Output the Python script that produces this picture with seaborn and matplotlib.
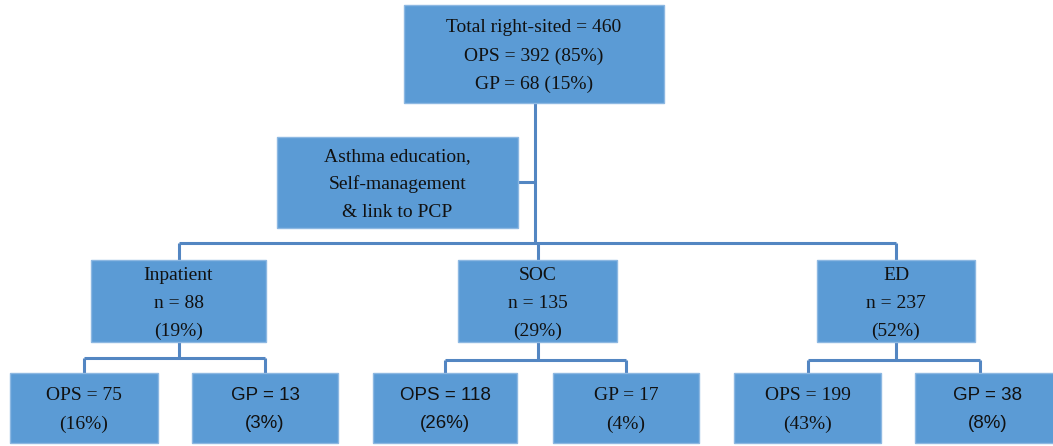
import matplotlib
matplotlib.use("Agg")
import matplotlib.pyplot as plt
import seaborn as sns
from matplotlib.patches import Rectangle

# ---- data ----
total = 460
total_ops = 392
total_gp = 68
total_ops_pct = 85
total_gp_pct = 15

settings = ["Inpatient", "SOC", "ED"]
setting_n = [88, 135, 237]
setting_pct = [19, 29, 52]

ops_n = [75, 118, 199]
ops_pct = [16, 26, 43]
gp_n = [13, 17, 38]
gp_pct = [3, 4, 8]

intervention = ["Asthma education,", "Self-management", "& link to PCP"]

# ---- layout (pixels, origin top-left) ----
W, H = 1053, 446
FILL = "#5B9BD5"
EDGE = "#8DB8E2"
LINE = "#5386C2"
SERIF = "Liberation Serif"
SANS = "Liberation Sans"
FS = 14
STEP = 28

mid_x = [(91, 266), (458, 617), (817, 975)]
mid_y = (260, 342)
kids_x = [((10, 158), (192, 338)), ((373, 517), (553, 699)), ((734, 881), (915, 1060))]
kids_y = (373, 443)
kid_bar_y = [358, 360, 360]
sans_ops = [False, True, False]
sans_gp = [True, False, True]

sns.set_theme(style="white")
fig = plt.figure(figsize=(W / 100, H / 100), dpi=100)
ax = fig.add_axes([0, 0, 1, 1])
ax.set_xlim(0, W)
ax.set_ylim(H, 0)
ax.axis("off")


def box(x0, x1, y0, y1, lines, fams=None):
    ax.add_patch(Rectangle((x0, y0), x1 - x0, y1 - y0, facecolor=FILL,
                           edgecolor=EDGE, linewidth=1.0, zorder=2))
    cx = (x0 + x1) / 2
    cy = (y0 + y1) / 2 + 2
    k = len(lines)
    for i, t in enumerate(lines):
        fam = fams[i] if fams else SERIF
        ax.text(cx, cy + (i - (k - 1) / 2) * STEP, t, ha="center", va="center",
                fontsize=FS if fam == SERIF else FS - 0.5, family=fam,
                color="#111111", zorder=3)


def line(xs, ys):
    ax.plot(xs, ys, color=LINE, linewidth=2.2, solid_capstyle="butt", zorder=1)


# top box and trunk
box(404, 664, 5, 103, [f"Total right-sited = {total}",
                       f"OPS = {total_ops} ({total_ops_pct}%)",
                       f"GP = {total_gp} ({total_gp_pct}%)"])
trunk_x = 535
line([trunk_x, trunk_x], [103, 243])

# intervention box
box(277, 518, 137, 228, intervention)
line([518, trunk_x], [182, 182])

# horizontal bar to settings
centers = [(a + b) / 2 for a, b in mid_x]
line([centers[0], centers[-1]], [243, 243])
for c in centers:
    line([c, c], [243, mid_y[0]])

for i, name in enumerate(settings):
    x0, x1 = mid_x[i]
    box(x0, x1, mid_y[0], mid_y[1], [name, f"n = {setting_n[i]}", f"({setting_pct[i]}%)"])
    c = centers[i]
    by = kid_bar_y[i]
    line([c, c], [mid_y[1], by])
    (lx0, lx1), (rx0, rx1) = kids_x[i]
    lc = (lx0 + lx1) / 2
    rc = (rx0 + min(rx1, W - 8)) / 2 if i == 2 else (rx0 + rx1) / 2
    line([lc, rc], [by, by])
    line([lc, lc], [by, kids_y[0]])
    line([rc, rc], [by, kids_y[0]])
    f_ops = SANS if sans_ops[i] else SERIF
    f_gp = SANS if sans_gp[i] else SERIF
    box(lx0, lx1, kids_y[0], kids_y[1], [f"OPS = {ops_n[i]}", f"({ops_pct[i]}%)"], [f_ops, f_ops])
    box(rx0, rx1, kids_y[0], kids_y[1], [f"GP = {gp_n[i]}", f"({gp_pct[i]}%)"], [f_gp, f_gp])

fig.savefig("out.png", dpi=100, facecolor="white")
